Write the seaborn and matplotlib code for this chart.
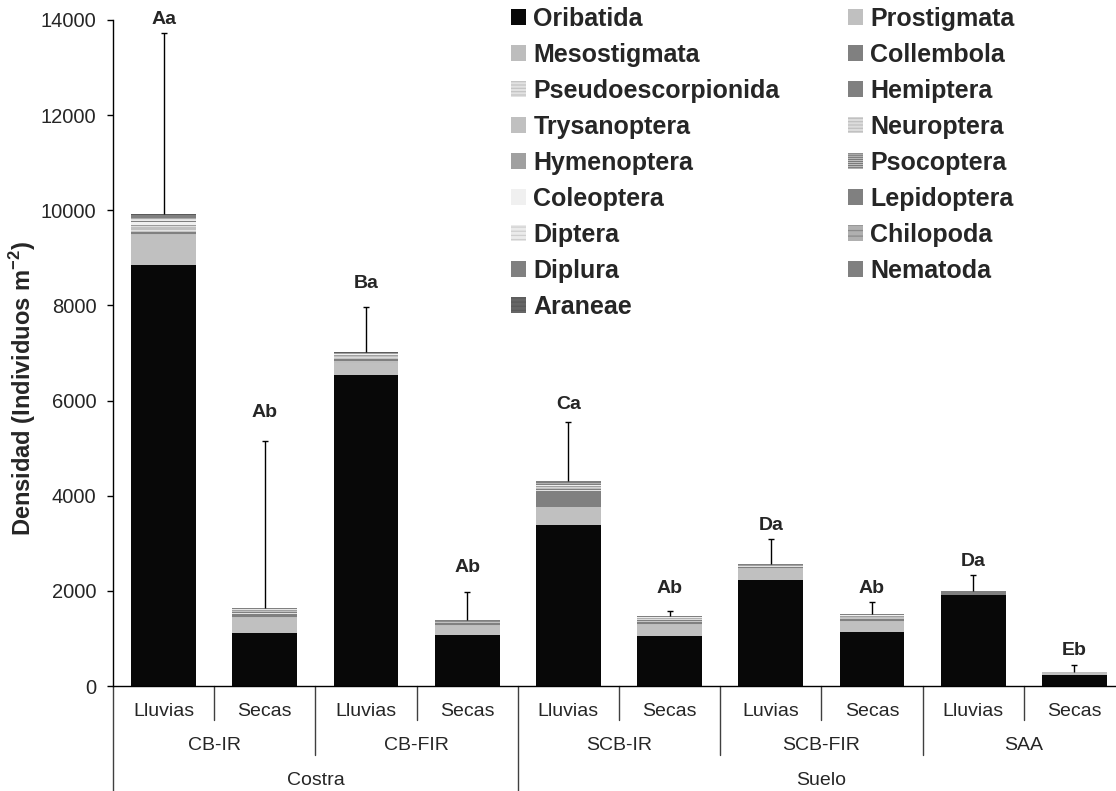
import numpy as np
import pandas as pd
import matplotlib
matplotlib.use("Agg")
import matplotlib.pyplot as plt
import matplotlib.transforms as mtransforms
import seaborn as sns
from matplotlib.patches import Patch

# ---------------- data ----------------
seasons = ["Lluvias", "Secas", "Lluvias", "Secas", "Lluvias", "Secas",
           "Luvias", "Secas", "Lluvias", "Secas"]
sites = ["CB-IR", "CB-FIR", "SCB-IR", "SCB-FIR", "SAA"]
soil_types = ["Costra", "Suelo"]
sites_per_soil = [2, 3]

taxa = ["Oribatida", "Prostigmata", "Mesostigmata", "Collembola",
        "Pseudoescorpionida", "Hemiptera", "Trysanoptera", "Neuroptera",
        "Hymenoptera", "Psocoptera", "Coleoptera", "Lepidoptera",
        "Diptera", "Chilopoda", "Diplura", "Nematoda", "Araneae"]

oribatida = [8850, 1120, 6537, 1072, 3384, 1051, 2228, 1135, 1906, 238]
prostigmata = [630, 303, 259, 196, 379, 231, 225, 204, 15, 45]
mesostigmata = [20, 30, 40, 20, 0, 20, 30, 25, 0, 5]
collembola = [50, 70, 40, 30, 343, 50, 20, 45, 55, 0]
pseudoescorpionida = [30, 15, 30, 10, 20, 15, 10, 15, 0, 0]
hemiptera = [15, 10, 10, 5, 20, 10, 5, 10, 5, 0]
trysanoptera = [45, 20, 20, 10, 20, 15, 10, 15, 0, 0]
neuroptera = [20, 10, 10, 5, 15, 10, 5, 10, 0, 0]
hymenoptera = [15, 10, 10, 5, 15, 10, 5, 10, 0, 0]
psocoptera = [25, 5, 10, 5, 15, 10, 5, 10, 0, 0]
coleoptera = [60, 10, 5, 5, 15, 10, 5, 5, 4, 0]
lepidoptera = [20, 5, 5, 3, 15, 5, 0, 5, 0, 0]
diptera = [30, 10, 10, 5, 15, 10, 5, 5, 0, 0]
chilopoda = [25, 5, 5, 3, 15, 5, 0, 5, 0, 0]
diplura = [10, 5, 3, 2, 15, 5, 0, 3, 0, 0]
nematoda = [65, 5, 15, 5, 20, 8, 5, 5, 5, 0]
araneae = [20, 0, 5, 0, 10, 0, 0, 0, 0, 0]

err_upper = [3790, 3523, 953, 601, 1233, 118, 539, 265, 343, 153]
letters = ["Aa", "Ab", "Ba", "Ab", "Ca", "Ab", "Da", "Ab", "Da", "Eb"]
label_y = [14020, 5739, 8457, 2501, 5907, 2060, 3384, 2060, 2627, 736]

yticks = [0, 2000, 4000, 6000, 8000, 10000, 12000, 14000]

layers = [oribatida, prostigmata, mesostigmata, collembola, pseudoescorpionida,
          hemiptera, trysanoptera, neuroptera, hymenoptera, psocoptera,
          coleoptera, lepidoptera, diptera, chilopoda, diplura, nematoda, araneae]

# styles: facecolor, hatch, hatch colour
styles = {
    "Oribatida": ("#080808", None, None),
    "Prostigmata": ("#c0c0c0", None, None),
    "Mesostigmata": ("#bdbdbd", None, None),
    "Collembola": ("#808080", None, None),
    "Pseudoescorpionida": ("#e2e2e2", "-----", "#c4c4c4"),
    "Hemiptera": ("#808080", None, None),
    "Trysanoptera": ("#c0c0c0", None, None),
    "Neuroptera": ("#dcdcdc", "-----", "#c0c0c0"),
    "Hymenoptera": ("#a0a0a0", None, None),
    "Psocoptera": ("#cccccc", "--------", "#7a7a7a"),
    "Coleoptera": ("#f0f0f0", None, None),
    "Lepidoptera": ("#808080", None, None),
    "Diptera": ("#ebebeb", "----", "#cfcfcf"),
    "Chilopoda": ("#b0b0b0", "---", "#8a8a8a"),
    "Diplura": ("#808080", None, None),
    "Nematoda": ("#808080", None, None),
    "Araneae": ("#666666", "----", "#5a5a5a"),
}

bar_ids = [f"{sites[i // 2]} {seasons[i]}" for i in range(len(seasons))]
stack = np.array(layers, dtype=float)
cum = np.cumsum(stack, axis=0)
totals = cum[-1]

# ---------------- figure ----------------
sns.set_theme(style="white")
plt.rcParams["font.family"] = ["Liberation Sans", "DejaVu Sans"]
plt.rcParams["mathtext.fontset"] = "custom"
plt.rcParams["mathtext.rm"] = "Liberation Sans"
plt.rcParams["mathtext.bf"] = "Liberation Sans:bold"
plt.rcParams["hatch.linewidth"] = 0.9

W, H = 1116, 791
fig = plt.figure(figsize=(W / 100, H / 100), dpi=100)
ax = fig.add_axes([113 / W, 1 - 686 / H, 1012 / W, 666 / H])

for k in range(len(taxa) - 1, -1, -1):
    fc, hatch, hc = styles[taxa[k]]
    kw = dict(linewidth=0)
    if hatch:
        kw.update(hatch=hatch, edgecolor=hc)
    else:
        kw.update(edgecolor=fc)
    sns.barplot(x=bar_ids, y=cum[k], order=bar_ids, color=fc, saturation=1,
                width=0.64, errorbar=None, ax=ax, **kw)

xpos = np.arange(len(bar_ids))
eb = ax.errorbar(xpos, totals, yerr=[np.zeros(len(totals)), err_upper],
                 fmt="none", ecolor="black", elinewidth=1.0, capsize=2.5,
                 capthick=1.0, zorder=5)
for cl in eb[1]:
    if np.allclose(cl.get_ydata(), totals):
        cl.set_visible(False)

for x, t, ly in zip(xpos, letters, label_y):
    ax.text(x, ly, t, ha="center", va="center", fontsize=14,
            fontweight="bold", clip_on=False)

ax.set_xlim(-0.5, len(bar_ids) - 0.5)
ax.set_ylim(0, 14000)
ax.set_yticks(yticks)
ax.set_yticklabels([str(v) for v in yticks])
ax.tick_params(axis="y", labelsize=14.5, length=4, width=1, color="black",
               direction="out", pad=8, left=True)
ax.tick_params(axis="x", bottom=False, labelbottom=False)
ax.set_xlabel("")
ax.set_ylabel("")
for s in ["top", "right"]:
    ax.spines[s].set_visible(False)
for s in ["left", "bottom"]:
    ax.spines[s].set_color("black")
    ax.spines[s].set_linewidth(1.0)

# hierarchical x labels
trans = mtransforms.blended_transform_factory(ax.transData, ax.transAxes)
y1, y2, y3 = -0.039, -0.090, -0.142
d1, d2, d3 = -0.051, -0.1036, -0.158
for i, s in enumerate(seasons):
    ax.text(i, y1, s, transform=trans, ha="center", va="center", fontsize=14)
# separators
for b in range(len(seasons) + 1):
    edge = b - 0.5
    if b in (0, 4, 10):
        dep = d3
    elif b % 2 == 0:
        dep = d2
    else:
        dep = d1
    ax.plot([edge, edge], [0, dep], transform=trans, color="#404040",
            lw=1.0, clip_on=False)
for j, site in enumerate(sites):
    ax.text(2 * j + 0.5, y2, site, transform=trans, ha="center", va="center",
            fontsize=14)
start = 0
for soil, n in zip(soil_types, sites_per_soil):
    ncat = 2 * n
    ax.text(start + (ncat - 1) / 2, y3, soil, transform=trans, ha="center",
            va="center", fontsize=14)
    start += ncat

fig.text(23 / W, 1 - 388 / H, r"Densidad (Individuos m$^{\mathbf{-2}}$)",
         rotation=90, ha="center", va="center", fontsize=17, fontweight="bold")

# legend (row-major order in 2 columns)
handles = []
for t in taxa:
    fc, hatch, hc = styles[t]
    if hatch:
        handles.append(Patch(facecolor=fc, hatch=hatch, edgecolor=hc, linewidth=0, label=t))
    else:
        handles.append(Patch(facecolor=fc, edgecolor=fc, linewidth=0, label=t))
order = list(range(0, len(taxa), 2)) + list(range(1, len(taxa), 2))
handles = [handles[i] for i in order]
leg = fig.legend(handles=handles, loc="upper left",
                 bbox_to_anchor=(511 / W, 1 - 7 / H), ncol=2, frameon=False,
                 prop={"weight": "bold", "size": 18}, handlelength=0.6,
                 handleheight=0.6, handletextpad=0.3, columnspacing=2.72,
                 labelspacing=0.48, borderpad=0, borderaxespad=0)

fig.savefig("out.png", dpi=100)
